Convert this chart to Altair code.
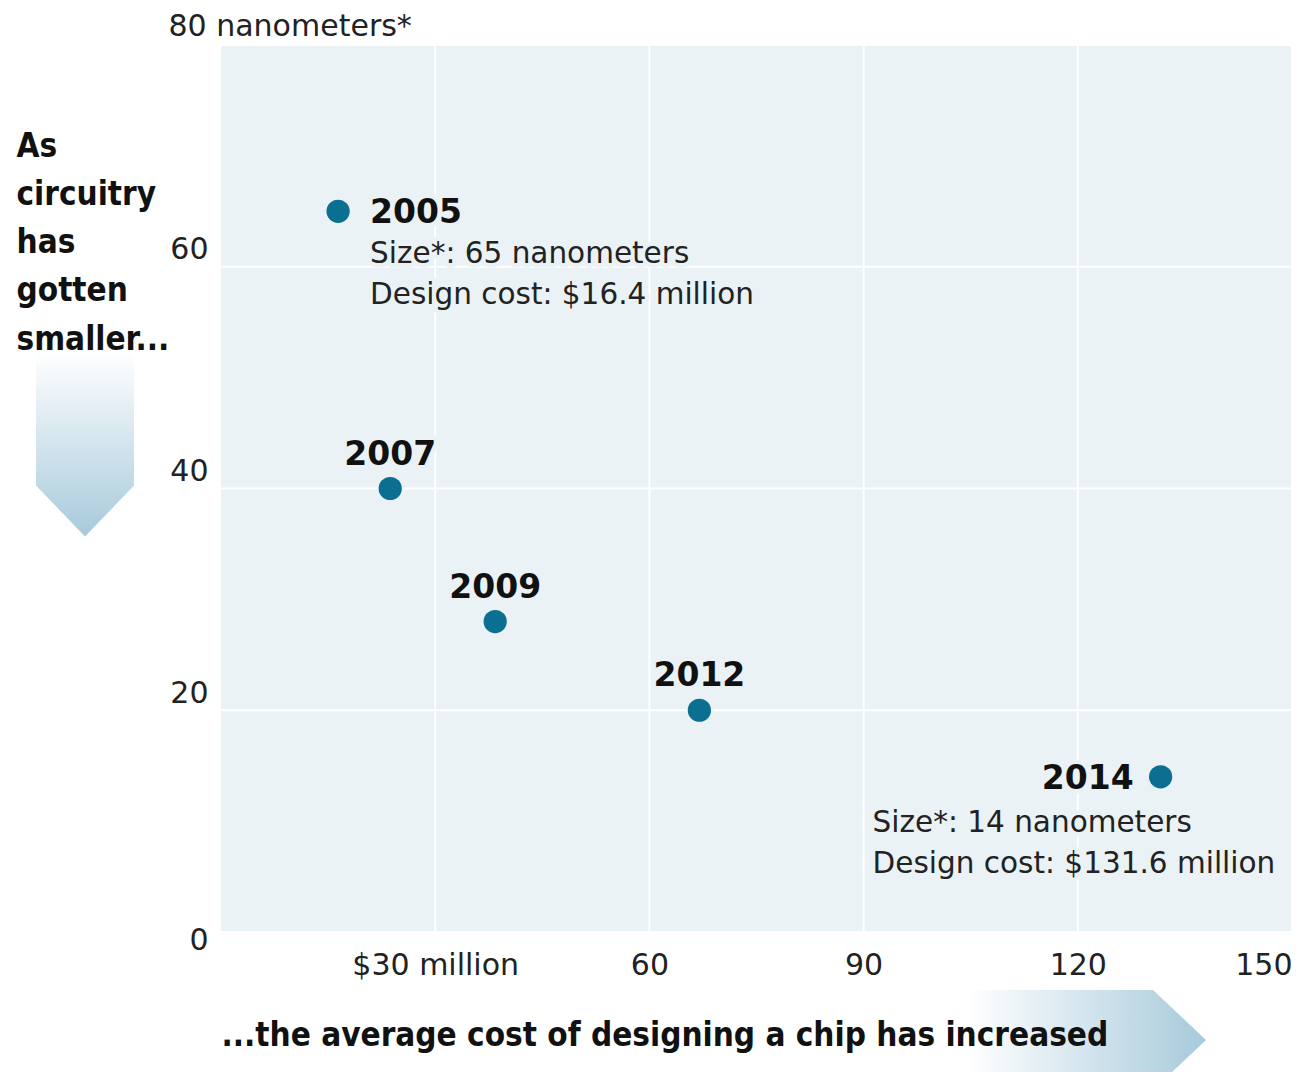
import altair as alt
import pandas as pd

# ---- data ----
years = ["2005", "2007", "2009", "2012", "2014"]
cost_musd = [16.4, 23.7, 38.4, 67.0, 131.6]     # design cost, $ million
size_nm = [65, 40, 28, 20, 14]                  # feature size, nanometers

x_ticks = [30, 60, 90, 120, 150]
y_ticks = [0, 20, 40, 60, 80]
y_title_lines = ["As", "circuitry", "has", "gotten", "smaller..."]
x_title = "...the average cost of designing a chip has increased"

df = pd.DataFrame({"year": years, "cost": cost_musd, "size": size_nm})
df["detail"] = [
    f"Size*: {s} nanometers\nDesign cost: ${c:g} million" for s, c in zip(size_nm, cost_musd)
]
xgrid = pd.DataFrame({"v": x_ticks})
ygrid = pd.DataFrame({"v": y_ticks})

BLUE = "#0b6f92"
BG = "#eaf2f6"
ARROW = "#a7cadb"
BOLD_FONT = "DejaVu Sans Condensed, DejaVu Sans"
REG_FONT = "DejaVu Sans"

XS = alt.Scale(domain=[0, 150], nice=False, zero=True)
YS = alt.Scale(domain=[0, 80], nice=False, zero=True)

base = alt.Chart(df)

xenc = alt.X(
    "cost:Q",
    scale=XS,
    axis=alt.Axis(
        values=x_ticks,
        labelExpr="datum.value == 30 ? '$30 million' : datum.label",
        labelFlush=True,
        labelFont=REG_FONT,
        labelFontSize=30,
        labelColor="#222222",
        labelPadding=18,
        ticks=False,
        tickSize=0,
        domain=False,
        grid=False,
        title=x_title,
        titleFont=BOLD_FONT,
        titleFontSize=33,
        titleFontWeight="bold",
        titleColor="#111111",
        titleAlign="left",
        titleAnchor="start",
        titleBaseline="middle",
        titleX=0,
        titleY=103,
        zindex=1,
    ),
)

yenc = alt.Y(
    "size:Q",
    scale=YS,
    axis=alt.Axis(
        values=y_ticks,
        labelExpr="datum.value == 80 ? '80 nanometers*' : datum.label",
        labelLimit=400,
        labelFont=REG_FONT,
        labelFontSize=30,
        labelColor="#222222",
        labelAlign={"condition": {"test": "datum.value == 80", "value": "left"}, "value": "right"},
        labelPadding={"condition": {"test": "datum.value == 80", "value": 53}, "value": 13},
        labelBaseline="alphabetic",
        labelOffset={
            "condition": [
                {"test": "datum.value == 0", "value": 17},
                {"test": "datum.value == 80", "value": -10},
            ],
            "value": -8,
        },
        ticks=False,
        tickSize=0,
        domain=False,
        grid=False,
        title=y_title_lines,
        titleFont=BOLD_FONT,
        titleFontSize=33,
        titleFontWeight="bold",
        titleColor="#111111",
        titleAngle=0,
        titleAlign="left",
        titleBaseline="top",
        titleLineHeight=48.3,
        titleX=-205,
        titleY=85,
        zindex=1,
    ),
)

# white grid lines, drawn from the tick arrays through the scales
vgrid = alt.Chart(xgrid).mark_rule(color="white", strokeWidth=2).encode(
    x=alt.X("v:Q", scale=XS)
)
hgrid = alt.Chart(ygrid).mark_rule(color="white", strokeWidth=2).encode(
    y=alt.Y("v:Q", scale=YS)
)

points = base.mark_circle(size=540, color=BLUE, opacity=1).encode(x=xenc, y=yenc)


def text_layers(filt, enc_text, halo=True, **style):
    layers = []
    src = base.transform_filter(filt)
    if halo:
        layers.append(
            src.mark_text(stroke=BG, strokeWidth=9, strokeJoin="round", **style).encode(
                x="cost:Q", y="size:Q", text=enc_text
            )
        )
    layers.append(src.mark_text(**style).encode(x="cost:Q", y="size:Q", text=enc_text))
    return layers


year_style = dict(font="DejaVu Sans", fontSize=33, fontWeight="bold", color="#111111", baseline="middle")
detail_style = dict(font=REG_FONT, fontSize=29.5, color="#222222", baseline="top",
                    align="left", lineBreak="\n", lineHeight=41)

labels = []
labels += text_layers("datum.year == '2005'", "year:N", align="left", dx=32, dy=2, **year_style)
labels += text_layers("datum.year == '2007' || datum.year == '2009' || datum.year == '2012'",
                      "year:N", align="center", dy=-34, **year_style)
labels += text_layers("datum.year == '2014'", "year:N", align="right", dx=-27, dy=2, **year_style)
labels += text_layers("datum.year == '2005'", "detail:N", dx=32, dy=29, **detail_style)
labels += text_layers("datum.year == '2014'", "detail:N", dx=-288, dy=32, **detail_style)

# decorative gradient arrows
one = pd.DataFrame({"k": [0]})
down_arrow = alt.Chart(one).mark_point(
    shape="M-0.53,-1 L0.53,-1 L0.53,0.449 L0,1 L-0.53,0.449 Z",
    size=34225,
    filled=True,
    opacity=1,
    strokeWidth=0,
    fill=alt.Gradient(
        gradient="linear",
        stops=[alt.GradientStop(color="white", offset=0), alt.GradientStop(color=ARROW, offset=1)],
        x1=0, y1=0, x2=0, y2=1,
    ),
).encode(x=alt.value(-136), y=alt.value(399))

right_arrow = alt.Chart(one).mark_point(
    shape="M-1,-0.42 L0.555,-0.42 L1,0 L0.555,0.42 L-1,0.42 Z",
    size=56644,
    filled=True,
    opacity=1,
    strokeWidth=0,
    fill=alt.Gradient(
        gradient="linear",
        stops=[alt.GradientStop(color="white", offset=0), alt.GradientStop(color=ARROW, offset=1)],
        x1=0, y1=0, x2=1, y2=0,
    ),
).encode(x=alt.value(866), y=alt.value(995))

chart = (
    alt.layer(vgrid, hgrid, down_arrow, right_arrow, points, *labels)
    .properties(
        width=1071,
        height=887,
        autosize="none",
        padding={"left": 213, "top": 37, "right": 0, "bottom": 140},
        background="white",
    )
    .configure_view(fill=BG, strokeWidth=0)
)

chart.save("out.html", embed_options={"renderer": "svg", "actions": False})
